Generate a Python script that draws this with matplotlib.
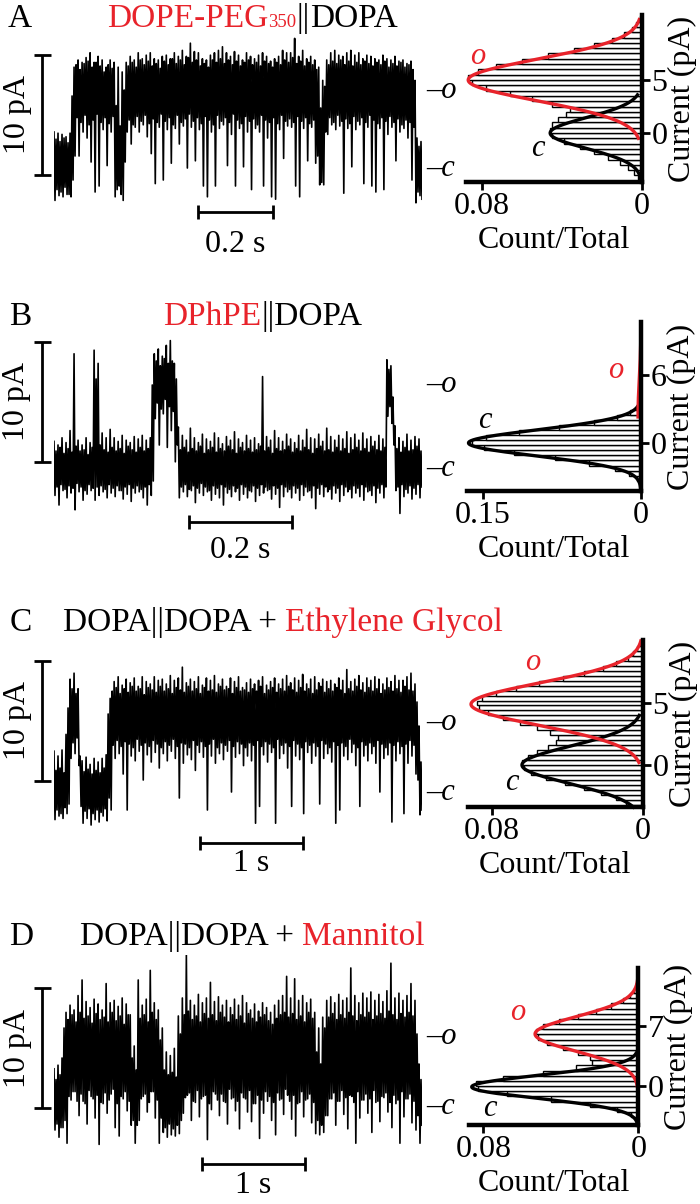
import numpy as np
import matplotlib
matplotlib.use('Agg')
import matplotlib.pyplot as plt

plt.rcParams['font.family'] = ['Liberation Serif', 'DejaVu Serif']

RED = '#e8232b'
W, H = 700, 1204
FS = 23
PPA = 12.0  # trace scale: pixels per pA (10 pA bar = 120 px)

# ---- current traces (pA, closed = 0), read every 2 px as alternating
# outer (hi, lo) and inner (hi2, lo2) excursions
a_hi = [3.0, 2.9, 2.8, 2.6, 2.9, 8.4, 9.0, 8.8, 9.2, 9.6, 8.8, 9.3, 9.0, 8.4, 9.0,
        8.8, 8.4, 8.0, 8.8, 9.3, 9.0, 9.6, 9.1, 9.4, 9.6, 9.1, 9.0, 9.3, 9.4, 9.1,
        9.6, 9.3, 9.8, 9.3, 10.4, 9.7, 9.6, 9.1, 9.0, 9.4, 9.6, 9.8, 10.1, 9.6, 9.3,
        9.7, 9.4, 9.0, 9.6, 9.3, 9.1, 9.4, 9.6, 9.3, 8.9, 9.1, 9.3, 9.8, 9.6, 9.6,
        10.8, 9.3, 9.8, 9.1, 9.3, 9.0, 8.4, 7.3, 9.0, 9.6, 9.8, 9.4, 9.3, 9.6, 9.8,
        9.4, 9.6, 9.1, 9.4, 9.3, 9.1, 9.0, 9.4, 9.1, 9.0, 9.3, 8.9, 9.0, 8.7, 8.9,
        7.3, 1.8]
a_lo = [-2.7, -2.3, -2.4, -2.2, -2.4, 1.0, 1.0, 3.0, 2.5, 0.5, -2.0, -1.5, 3.2, 0.2, 3.0,
        -2.4, -1.5, -2.7, 3.0, 2.0, 3.4, 3.0, 3.6, 2.6, 1.2, -1.3, 3.4, -1.0, 3.2, 0.4,
        3.3, 2.0, 3.5, 0.0, 3.4, 0.6, 3.2, -1.5, -2.4, 3.0, -1.5, 3.3, 3.6, 0.2, 2.8,
        -1.5, 3.3, 0.1, 3.0, -1.8, 3.3, 3.0, -1.5, 2.5, -2.4, -2.6, 3.2, 0.8, 3.5, 3.4,
        -1.5, -2.4, 3.3, 0.6, 3.4, 0.4, -1.4, -1.4, 2.8, 3.6, 3.2, 3.5, -2.1, 3.3, 0.1,
        3.2, 3.6, -1.3, 3.4, -1.5, -2.0, 3.3, -1.8, 2.8, 3.4, 0.6, 3.0, 3.3, 2.5, -1.0,
        -2.9, -2.3]
a_hi2 = [2.4, 2.2, 2.5, 2.1, 6.0, 8.6, 8.2, 8.7, 8.9, 8.4, 8.8, 8.5, 8.0, 8.6, 8.3,
         5.2, 3.5, 6.5, 8.5, 8.8, 8.4, 9.0, 8.6, 8.9, 8.5, 8.7, 8.3, 8.9, 8.6, 9.1,
         8.7, 9.0, 8.6, 9.2, 8.8, 9.0, 8.5, 8.7, 8.4, 9.0, 8.8, 9.1, 8.7, 9.0, 8.6,
         8.9, 8.5, 8.8, 9.0, 8.6, 8.8, 8.5, 8.9, 8.7, 8.4, 8.8, 8.6, 9.0, 8.8, 9.2,
         8.7, 8.9, 8.5, 8.8, 8.6, 8.2, 5.0, 6.8, 8.6, 8.9, 8.7, 9.0, 8.6, 8.9, 8.5,
         8.8, 8.6, 8.9, 8.7, 8.5, 8.8, 8.6, 8.9, 8.4, 8.7, 8.5, 8.8, 8.4, 8.6, 8.2,
         2.5, 2.2]
a_lo2 = [-1.8, -2.0, -1.6, -2.2, -1.0, 4.2, 3.8, 4.4, 3.6, 4.0, 4.5, 3.8, 4.2, 3.7, 4.3,
         -1.8, -2.2, 0.5, 4.0, 3.6, 4.3, 3.9, 4.4, 3.7, 4.1, 3.8, 4.5, 3.9, 4.2, 3.6,
         4.4, 3.8, 4.1, 4.5, 3.9, 4.2, 3.7, 4.3, 4.0, 3.6, 4.4, 3.9, 4.2, 3.8, 4.5,
         4.0, 3.7, 4.3, 3.9, 4.1, 3.6, 4.4, 4.0, 3.8, 4.2, 3.7, 4.4, 3.9, 4.1, 3.8,
         4.3, 3.9, 4.2, 3.7, 4.0, 1.0, -1.2, 3.0, 4.2, 3.8, 4.4, 3.9, 4.1, 3.7, 4.3,
         3.9, 4.2, 3.8, 4.4, 4.0, 3.7, 4.2, 3.9, 4.3, 3.8, 4.1, 3.6, 4.0, 3.8, 3.4,
         -2.0, -2.6]

b_hi = [2.3, 2.0, 2.6, 2.2, 3.2, 9.6, 2.4, 2.0, 2.6, 2.2, 9.9, 8.8, 3.0, 2.6, 3.3,
        2.6, 2.3, 2.8, 2.4, 2.2, 2.7, 2.5, 2.8, 2.4, 2.6, 9.6, 10.0, 9.4, 10.3, 10.7,
        8.8, 3.5, 2.8, 2.4, 3.4, 2.6, 2.2, 2.9, 2.5, 2.3, 3.0, 2.6, 2.1, 2.7, 2.4,
        3.1, 2.5, 2.2, 2.8, 2.4, 2.6, 2.1, 7.7, 2.7, 2.4, 3.2, 2.6, 2.3, 2.9, 2.5,
        2.2, 2.8, 2.4, 3.3, 2.6, 2.5, 2.9, 2.3, 3.4, 2.7, 2.4, 2.8, 2.5, 3.1, 2.6,
        2.9, 2.4, 3.0, 2.5, 2.7, 2.3, 2.8, 2.5, 9.1, 8.6, 3.6, 2.6, 2.3, 2.9, 2.4,
        2.7, 2.5]
b_lo = [-2.2, -3.0, -1.8, -2.4, -2.0, -3.4, -1.9, -2.6, -2.1, -1.8, -2.6, -2.2, -1.9, -2.4, -2.0,
        -2.3, -1.8, -2.5, -2.1, -2.7, -2.0, -1.9, -2.4, -3.0, -2.2, 4.2, 2.0, 4.6, 1.8, 3.2,
        0.6, -2.4, -1.9, -2.3, -1.8, -2.8, -2.0, -2.2, -1.9, -2.6, -2.1, -2.4, -3.0, -2.0, -2.3,
        -1.9, -2.6, -2.1, -2.4, -1.9, -2.7, -2.2, -2.0, -1.8, -2.5, -2.1, -3.2, -2.3, -1.9, -2.4,
        -2.0, -2.6, -2.2, -1.9, -2.4, -3.3, -2.1, -2.3, -1.9, -2.5, -2.0, -2.7, -2.2, -1.9, -2.4,
        -2.0, -2.3, -2.6, -1.9, -2.2, -2.8, -2.0, -2.4, 4.4, 3.8, -1.8, -3.7, -2.3, -2.0, -2.5,
        -2.1, -2.4]
b_hi2 = [1.5, 1.8, 1.3, 1.7, 1.4, 1.9, 1.5, 1.6, 1.2, 1.8, 7.5, 2.0, 1.6, 1.4, 1.8,
         1.5, 1.7, 1.3, 1.9, 1.6, 1.4, 1.8, 1.5, 1.7, 7.0, 9.0, 8.6, 9.2, 8.8, 9.0,
         7.5, 1.6, 1.8, 1.4, 1.7, 1.5, 1.9, 1.3, 1.6, 1.8, 1.4, 1.7, 1.5, 1.9, 1.6,
         1.3, 1.8, 1.5, 1.7, 1.4, 1.6, 1.9, 1.5, 1.8, 1.3, 1.7, 1.5, 1.6, 1.9, 1.4,
         1.7, 1.5, 1.8, 1.6, 1.3, 1.7, 1.9, 1.5, 1.6, 1.4, 1.8, 1.5, 1.7, 1.3, 1.6,
         1.8, 1.5, 1.7, 1.4, 1.9, 1.6, 1.5, 1.8, 8.3, 6.0, 1.7, 1.4, 1.8, 1.5, 1.6,
         1.9, 1.5]
b_lo2 = [-1.5, -1.3, -1.7, -1.4, -1.6, -1.2, -1.5, -1.8, -1.3, -1.6, -1.5, -1.4, -1.7, -1.3, -1.6,
         -1.4, -1.8, -1.5, -1.3, -1.6, -1.4, -1.7, -1.5, -1.3, -1.0, 5.5, 5.0, 5.8, 5.2, 4.8,
         2.0, -1.5, -1.3, -1.7, -1.4, -1.6, -1.2, -1.5, -1.8, -1.4, -1.6, -1.3, -1.5, -1.7, -1.4,
         -1.6, -1.3, -1.5, -1.8, -1.4, -1.6, -1.3, -1.5, -1.7, -1.4, -1.6, -1.3, -1.5, -1.7, -1.4,
         -1.6, -1.3, -1.5, -1.8, -1.4, -1.6, -1.3, -1.5, -1.7, -1.4, -1.6, -1.3, -1.5, -1.7, -1.4,
         -1.6, -1.3, -1.5, -1.8, -1.4, -1.6, -1.3, -1.5, 5.2, 2.0, -1.5, -1.3, -1.7, -1.4, -1.6,
         -1.3, -1.5]

c_hi = [3.4, 3.0, 3.5, 4.8, 9.4, 9.9, 8.6, 2.6, 2.9, 2.3, 2.8, 2.5, 2.8, 3.1, 7.8,
        9.2, 9.6, 8.9, 9.4, 9.1, 9.5, 8.8, 9.6, 9.2, 9.0, 9.6, 9.3, 9.4, 9.0, 9.7,
        9.3, 9.5, 10.4, 9.1, 9.4, 9.2, 9.6, 8.9, 9.5, 9.3, 9.7, 9.0, 9.4, 8.8, 9.5,
        9.2, 9.6, 8.7, 9.1, 9.4, 9.0, 9.3, 9.6, 8.9, 9.2, 9.5, 9.0, 9.4, 9.7, 9.1,
        9.5, 9.3, 9.8, 9.0, 9.4, 9.6, 9.1, 9.4, 9.2, 9.3, 9.0, 9.5, 9.3, 10.2, 9.2,
        9.4, 9.7, 9.1, 9.5, 9.3, 9.6, 9.4, 9.0, 9.5, 9.2, 9.7, 9.3, 9.3, 9.6, 9.9,
        9.0, 5.5]
c_lo = [-2.3, -2.0, -2.2, -1.8, 2.8, 3.2, 2.2, -2.6, -2.2, -2.75, -2.3, -2.5, -2.0, -2.4, -1.5,
        2.8, 3.2, 1.5, -1.5, 3.0, 2.6, 3.4, 1.0, 3.1, 2.5, 3.3, 2.0, 3.2, 2.6, 3.4,
        2.8, -0.5, 2.4, 3.1, 2.7, 1.8, 3.3, 2.9, -1.5, 3.0, 2.4, 3.2, 2.7, 3.4, 0.0,
        2.9, 3.2, 2.2, 3.0, 2.6, -2.6, -1.2, 3.1, 2.5, 3.3, -2.6, 2.8, 3.2, 2.0, -1.2,
        3.0, 2.7, -1.8, 3.3, 2.4, 3.0, -1.0, 2.8, 3.2, 2.5, -2.6, -1.5, 3.0, 2.7, 3.3,
        2.2, -1.2, 3.0, 2.6, 3.2, 2.4, 0.0, 2.8, 3.1, -2.5, 2.6, 3.2, -1.8, 2.4, 3.0,
        1.5, -1.9]
c_hi2 = [1.8, 2.0, 1.6, 7.0, 8.6, 8.2, 3.0, 1.7, 1.9, 1.5, 1.8, 1.6, 2.0, 6.5, 8.4,
         8.7, 8.2, 8.6, 8.3, 8.8, 8.4, 8.6, 8.1, 8.7, 8.5, 8.3, 8.8, 8.4, 8.6, 8.2,
         8.7, 8.5, 8.3, 8.8, 8.4, 8.6, 8.2, 8.7, 8.4, 8.5, 8.3, 8.8, 8.5, 8.6, 8.2,
         8.7, 8.4, 8.5, 8.3, 8.6, 8.4, 8.8, 8.2, 8.5, 8.7, 8.3, 8.6, 8.4, 8.8, 8.5,
         8.3, 8.7, 8.4, 8.6, 8.2, 8.5, 8.8, 8.3, 8.6, 8.4, 8.7, 8.5, 8.2, 8.6, 8.4,
         8.8, 8.5, 8.3, 8.7, 8.4, 8.6, 8.2, 8.5, 8.7, 8.4, 8.6, 8.3, 8.8, 8.5, 8.4,
         7.5, 2.5]
c_lo2 = [-1.5, -1.8, -1.3, -1.0, 4.1, 4.5, -1.2, -1.6, -1.4, -1.8, -1.5, -1.7, -1.4, -0.5, 3.9,
         4.3, 3.8, 4.2, 4.0, 3.7, 4.4, 3.9, 4.1, 3.8, 4.3, 4.0, 3.7, 4.2, 3.9, 4.4,
         3.8, 4.1, 4.0, 3.7, 4.3, 3.9, 4.2, 3.8, 4.0, 4.4, 3.7, 4.1, 3.9, 4.3, 3.8,
         4.2, 4.0, 3.7, 4.1, 3.9, 4.3, 3.8, 4.2, 4.0, 3.7, 4.4, 3.9, 4.1, 3.8, 4.3,
         4.0, 3.7, 4.2, 3.9, 4.1, 3.8, 4.3, 4.0, 3.7, 4.2, 3.9, 4.1, 3.8, 4.4, 4.0,
         3.7, 4.2, 3.9, 4.1, 3.8, 4.3, 4.0, 3.7, 4.1, 3.9, 4.2, 3.8, 4.0, 4.3, 3.9,
         1.0, -1.5]

d_hi = [3.1, 3.4, 4.0, 7.8, 8.4, 8.0, 9.2, 10.5, 8.7, 8.2, 8.9, 8.5, 8.0, 10.2, 8.6,
        8.8, 8.3, 9.0, 8.5, 7.6, 5.0, 10.5, 8.4, 8.9, 11.3, 8.6, 8.0, 6.5, 4.5, 4.2,
        4.8, 7.5, 9.0, 12.6, 8.8, 8.4, 9.3, 8.6, 9.0, 10.3, 8.7, 9.1, 8.4, 8.8, 8.2,
        8.9, 8.4, 9.2, 8.6, 8.0, 8.5, 7.9, 8.6, 8.2, 7.8, 8.4, 8.8, 9.2, 10.8, 9.0,
        10.6, 8.8, 9.2, 8.6, 8.9, 7.8, 6.5, 7.4, 8.8, 9.1, 8.6, 9.3, 8.8, 9.0, 11.5,
        9.2, 8.6, 9.4, 9.0, 9.5, 8.8, 9.3, 8.7, 9.6, 11.9, 9.0, 9.4, 8.8, 9.2, 10.2,
        8.8, 3.5]
d_lo = [-2.0, -2.6, -1.8, -3.1, 0.5, 1.2, -0.8, 0.4, -1.5, 0.8, -1.0, -3.2, 0.2, -0.6, 1.0,
        -1.8, -2.5, 0.6, -0.4, -1.6, -3.1, -1.2, 0.8, -0.5, 1.2, -1.0, -3.1, -2.2, -2.6, -2.4,
        -2.5, -2.3, -0.6, 0.9, -1.2, 0.3, -0.9, 0.8, -2.8, -0.3, 1.0, -0.8, 0.4, -1.5, 0.6,
        -0.4, -1.9, 0.7, -0.5, -1.3, 0.2, -2.7, -0.6, 0.4, -1.2, -2.4, 0.5, -0.7, 0.9, -1.1,
        -2.5, 0.3, -0.9, 0.6, -1.4, -2.3, -2.4, -2.2, -0.8, 0.6, -1.6, 0.4, -0.7, -1.9, 0.8,
        -3.1, -1.0, 0.5, -0.6, -2.2, 0.3, -1.3, 0.7, -0.5, -1.8, 0.2, -3.1, -0.9, 0.6, -1.4,
        -2.0, -3.1]
d_hi2 = [2.2, 2.6, 6.5, 7.2, 7.6, 7.0, 7.8, 7.3, 7.5, 6.9, 7.7, 7.2, 7.4, 7.0, 7.8,
         7.1, 7.5, 6.8, 7.6, 4.0, 3.0, 7.3, 7.6, 7.0, 7.8, 7.2, 5.5, 3.0, 2.6, 2.8,
         2.4, 6.0, 7.6, 7.9, 7.2, 7.5, 7.0, 7.7, 7.3, 7.6, 7.1, 7.8, 7.4, 7.0, 7.6,
         7.2, 7.5, 6.9, 7.7, 7.3, 7.0, 7.4, 7.6, 7.1, 6.8, 7.3, 7.6, 7.8, 7.4, 7.7,
         7.2, 7.5, 7.0, 7.8, 7.3, 4.5, 3.5, 6.5, 7.4, 7.7, 7.2, 7.6, 7.3, 7.8, 7.5,
         7.1, 7.6, 7.4, 7.8, 7.2, 7.5, 7.7, 7.3, 7.9, 7.6, 7.2, 7.7, 7.4, 7.8, 7.5,
         6.0, 2.2]
d_lo2 = [-1.5, -1.8, -1.2, 0.8, 1.2, 0.4, 1.0, 0.2, 1.3, 0.6, 0.9, 0.3, 1.1, 0.5, 1.4,
         0.2, 0.8, 1.2, 0.4, -1.2, -1.6, 0.6, 1.0, 0.3, 1.2, 0.5, -1.0, -1.8, -1.5, -1.9,
         -1.6, -1.2, 0.7, 1.1, 0.4, 1.3, 0.6, 0.9, 0.2, 1.2, 0.5, 1.0, 0.3, 1.4, 0.7,
         0.4, 1.1, 0.6, 1.3, 0.2, 0.9, 0.5, 1.2, 0.8, 0.3, 1.1, 0.6, 1.4, 0.4, 0.9,
         0.2, 1.2, 0.5, 1.0, 0.3, -1.2, -1.6, -0.8, 0.6, 1.1, 0.4, 1.3, 0.7, 0.9, 0.3,
         1.2, 0.5, 1.0, 0.6, 1.3, 0.4, 0.8, 1.1, 0.3, 0.9, 0.5, 1.2, 0.6, 1.0, 0.4,
         -0.8, -1.6]

trace_dur = [0.98, 0.715, 3.57, 3.57]      # s
time_bar = [0.2, 0.2, 1.0, 1.0]            # s
time_label = ['0.2 s', '0.2 s', '1 s', '1 s']

# ---- all-points histograms (Count/Total per current bin)
a_bins = np.arange(-4.25, 11.0, 0.5)
a_counts = [0.002, 0.004, 0.007, 0.011, 0.017, 0.024, 0.031, 0.039, 0.045, 0.046,
            0.045, 0.042, 0.038, 0.036, 0.045, 0.055, 0.066, 0.078, 0.085, 0.087,
            0.082, 0.073, 0.060, 0.047, 0.034, 0.024, 0.015, 0.009, 0.005, 0.003, 0.001]
b_bins = np.arange(-4.025, 10.7, 0.45)
b_counts = [0.0003, 0.0013, 0.004, 0.011, 0.025, 0.049, 0.082, 0.120, 0.149, 0.160,
            0.147, 0.116, 0.078, 0.045, 0.023, 0.010, 0.004, 0.002, 0.001, 0.001,
            0.001, 0.001, 0.001, 0.001, 0.001, 0.001, 0.0008, 0.0006, 0.0005, 0.0004,
            0.0003, 0.0002, 0.0001]
c_bins = np.arange(-3.0, 10.0, 0.4)
c_counts = [0.009, 0.014, 0.022, 0.031, 0.041, 0.051, 0.059, 0.063, 0.064, 0.061,
            0.056, 0.050, 0.046, 0.045, 0.049, 0.056, 0.065, 0.074, 0.082, 0.087,
            0.088, 0.085, 0.078, 0.067, 0.055, 0.042, 0.031, 0.021, 0.014, 0.008,
            0.005, 0.003, 0.0015]
d_bins = np.arange(-3.9, 13.2, 0.6)
d_counts = [0.0012, 0.004, 0.011, 0.025, 0.045, 0.068, 0.083, 0.084, 0.070, 0.049,
            0.032, 0.024, 0.025, 0.031, 0.039, 0.047, 0.052, 0.053, 0.049, 0.041,
            0.031, 0.022, 0.014, 0.008, 0.0045, 0.0022, 0.001, 0.0004, 0.0002]
bin_width = [0.5, 0.45, 0.4, 0.6]

# gaussian fits: (amplitude, mean pA, sd pA, drawn from, drawn to)
open_fit = [(0.0868, 5.0, 1.95, -0.5, 10.7), (0.0028, 2.5, 3.0, 2.3, 10.7),
            (0.091, 4.9, 1.7, 0.2, 10.0), (0.0533, 6.05, 2.0, 0.0, 13.0)]
closed_fit = [(0.0458, 0.0, 1.45, -4.6, 3.6), (0.1636, 0.0, 1.15, -4.25, 3.4),
              (0.064, 0.0, 1.5, -3.4, 4.0), (0.086, -0.1, 1.33, -4.5, 3.8)]
y_ticks = [[0, 5], [0, 6], [0, 5], [0, 7]]
x_ticks = [0.08, 0.15, 0.08, 0.08]

fig = plt.figure(figsize=(W / 100, H / 100), dpi=100)


def px_axes(x0, y0, x1, y1):
    return fig.add_axes([x0 / W, 1 - y1 / H, (x1 - x0) / W, (y1 - y0) / H])


def ptext(x, y, s, **kw):
    kw.setdefault('fontsize', FS)
    return fig.text(x / W, 1 - y / H, s, **kw)


def rich(x, base, parts):
    r = fig.canvas.get_renderer()
    for s, col, size, gap in parts:
        x += gap
        t = ptext(x, base, s, color=col, fontsize=size, va='baseline', ha='left')
        x += t.get_window_extent(r).width


def trace(vals, dur, y0, y1, c_px, vbar_px, tbar_x, tbar_y, tlen, tlab, tlab_y, o_px):
    ax = px_axes(54, y0, 422, y1)
    ax.set_xlim(0, dur)
    ax.set_ylim((c_px - y1) / PPA, (c_px - y0) / PPA)
    ax.axis('off')
    y = np.column_stack(vals).ravel()
    t = np.linspace(0, dur, len(y))
    ax.plot(t, y, color='k', lw=1.2)

    def px2t(x):
        return (x - 54) / 368 * dur

    def px2v(yp):
        return (c_px - yp) / PPA

    kw = dict(color='k', lw=2, clip_on=False, solid_capstyle='butt')
    xb, vb = px2t(42), px2v(vbar_px)
    ax.plot([xb, xb], [vb, vb + 10], **kw)
    for v in (vb, vb + 10):
        ax.plot([px2t(34), px2t(51)], [v, v], **kw)
    ax.text(px2t(17), vb + 5, '10 pA', rotation=90, ha='center', va='center', fontsize=FS)
    t0, vt = px2t(tbar_x), px2v(tbar_y)
    ax.plot([t0, t0 + tlen], [vt, vt], **kw)
    for tt in (t0, t0 + tlen):
        ax.plot([tt, tt], [vt - 7 / PPA, vt + 7 / PPA], **kw)
    ax.text(t0 + tlen / 2, px2v(tlab_y), tlab, ha='center', va='baseline', fontsize=FS)
    ax.text(px2t(426), px2v(o_px), '–o', style='italic', ha='left', va='center', fontsize=22)
    ax.text(px2t(426), 0, '–c', style='italic', ha='left', va='center', fontsize=22)


def hist(rect, xmax, ylim, bins, counts, bw, fo, fc, yt, xt):
    ax = px_axes(*rect)
    ax.barh(bins, counts, height=bw, color='white', edgecolor='black', lw=1.0)
    for (amp, mu, sd, a, b), col in ((fc, 'k'), (fo, RED)):
        yy = np.linspace(a, b, 300)
        ax.plot(amp * np.exp(-(yy - mu) ** 2 / (2 * sd ** 2)), yy, color=col, lw=2.4,
                clip_on=False)
    ax.set_xlim(xmax, 0)
    ax.set_ylim(*ylim)
    for s in ('left', 'top'):
        ax.spines[s].set_visible(False)
    for s in ('right', 'bottom'):
        ax.spines[s].set_linewidth(3.2)
    ax.yaxis.tick_right()
    ax.yaxis.set_label_position('right')
    ax.set_yticks(yt)
    ax.set_yticklabels([str(v) for v in yt])
    ax.set_xticks([xt, 0])
    ax.set_xticklabels([('%g' % xt), '0'])
    ax.tick_params(width=2, length=6, labelsize=FS, pad=1)
    ax.set_xlabel('Count/Total', fontsize=FS, labelpad=4)
    ax.set_ylabel('Current (pA)', fontsize=FS, labelpad=0)
    return ax


his = [(a_bins, a_counts), (b_bins, b_counts), (c_bins, c_counts), (d_bins, d_counts)]
traces = [(a_hi, a_lo, a_hi2, a_lo2), (b_hi, b_lo, b_hi2, b_lo2),
          (c_hi, c_lo, c_hi2, c_lo2), (d_hi, d_lo, d_hi2, d_lo2)]

# layout per row (pixels)
trace_rect = [(25, 230), (330, 540), (640, 880), (955, 1200)]
closed_px = [168, 469, 792, 1106]
open_px = [91, 384, 723, 1036]
vbar_px = [175, 462, 781, 1108]
tbar_pos = [(198, 212), (189, 522), (200, 843), (202, 1164)]
tlab_base = [252, 558, 871, 1193]
hist_rect = [(466, 15, 641.7, 182), (467, 322, 641, 491), (468, 640, 642.7, 807),
             (469, 968, 638.3, 1125)]
hist_xmax = [0.0879, 0.165, 0.0926, 0.0874]
hist_ylim = [(-4.62, 11.13), (-4.25, 10.7), (-3.39, 10.08), (-4.53, 13.72)]
o_lab = [(478, 57), (616, 370), (533, 662), (518, 1012)]
c_lab = [(538, 148), (485, 420), (512, 783), (490, 1108)]

for i in range(4):
    trace(traces[i], trace_dur[i], trace_rect[i][0], trace_rect[i][1], closed_px[i],
          vbar_px[i], tbar_pos[i][0], tbar_pos[i][1], time_bar[i], time_label[i],
          tlab_base[i], open_px[i])
    bins, counts = his[i]
    hist(hist_rect[i], hist_xmax[i], hist_ylim[i], bins, counts, bin_width[i],
         open_fit[i], closed_fit[i], y_ticks[i], x_ticks[i])
    ptext(*o_lab[i], 'o', color=RED, style='italic', ha='center', va='center', fontsize=22)
    ptext(*c_lab[i], 'c', color='k', style='italic', ha='center', va='center', fontsize=22)

# panel letters and titles
for letter, x, base in (('A', 8, 27), ('B', 9, 325), ('C', 10, 631), ('D', 9, 945)):
    ptext(x, base, letter, fontsize=24, va='baseline')
rich(107, 27, [('DOPE-PEG', RED, 24, 0), ('350', RED, 13.5, 0), ('||', 'k', 24, 0),
               ('DOPA', 'k', 24, 0)])
rich(163, 325, [('DPhPE', RED, 24, 0), ('||DOPA', 'k', 24, 0)])
rich(63, 631, [('DOPA||DOPA +', 'k', 24, 0), ('Ethylene Glycol', RED, 24, 8)])
rich(80, 945, [('DOPA||DOPA +', 'k', 24, 0), ('Mannitol', RED, 24, 8)])

fig.savefig('out.png', dpi=100)
